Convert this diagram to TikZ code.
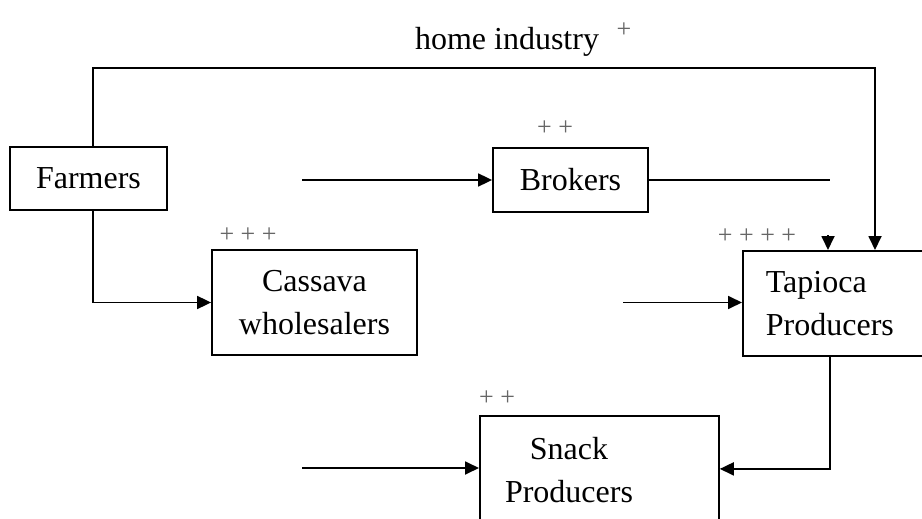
\documentclass[tikz,border=0pt]{standalone}
\usepackage{fontspec}
\setmainfont{Liberation Serif}
\usetikzlibrary{arrows.meta}
\begin{document}
\begin{tikzpicture}[x=1pt, y=-1pt, >={Triangle[length=14pt,width=13pt]}, line width=1.8pt,
    actor/.style={draw, line width=1.8pt, align=center, inner sep=0pt, font=\fontsize{32}{43}\selectfont},
    rank/.style={font=\fontsize{26}{30}\selectfont, text=black!60, inner sep=0pt}]
    \useasboundingbox (0,0) rectangle (922,519);
    \clip (0,0) rectangle (922,519);

    % --- Actors ---
    \node[actor, minimum width=157pt, minimum height=63pt] (farmers) at (88.5,178.5) {Farmers};
    \node[actor, minimum width=155pt, minimum height=64pt] (brokers) at (570.5,180) {Brokers};
    \node[actor, minimum width=205pt, minimum height=105pt] (cassava) at (314.5,302.5) {Cassava\\wholesalers};
    \node[actor, anchor=north west, align=left, text width=175pt, inner xsep=23pt, minimum height=105pt] (tapioca) at (742,250) {Tapioca\\Producers};
    \node[actor, anchor=north west, minimum width=239pt, minimum height=106pt] (snack) at (479,415) {};
    \node[font=\fontsize{32}{43}\selectfont, align=center, inner sep=0pt] (snacktext) at (569,470) {Snack\\Producers};

    % --- Ranks ---
    \node[font=\fontsize{32}{38}\selectfont, inner sep=0pt] (industry) at (507,42) {home industry};
    \node[rank] (rankind) at (624,30) {+};
    \node[rank] (rankbro) at (555,128) {+ +};
    \node[rank] (rankcas) at (248,235) {+ + +};
    \node[rank] (ranktap) at (757,236) {+ + + +};
    \node[rank] (ranksna) at (497,398) {+ +};

    % --- Free ends ---
    \coordinate (top) at (505,68);
    \coordinate (tapin) at (875,250);
    \coordinate (broin) at (302,180);
    \coordinate (broout) at (830,180);
    \coordinate (lone) at (828,235);
    \coordinate (tapleft) at (623,302.5);
    \coordinate (tapout) at (830,355);
    \coordinate (snain) at (302,468);

    % --- Flows ---
    \draw[->] ([xshift=4.5pt]farmers.north) |- (top) -| (tapin);
    \draw[->] ([xshift=4.5pt]farmers.south) |- (cassava.west);
    \draw[->] (broin) -- (broin -| brokers.west);
    \draw (brokers.east) -- (broout);
    \draw[->] (lone) -- (lone |- tapioca.north);
    \draw[->] (tapleft) -- (tapleft -| tapioca.west);
    \draw[->] (tapout) |- (snack.east);
    \draw[->] (snain) -- (snain -| snack.west);
\end{tikzpicture}
\end{document}
